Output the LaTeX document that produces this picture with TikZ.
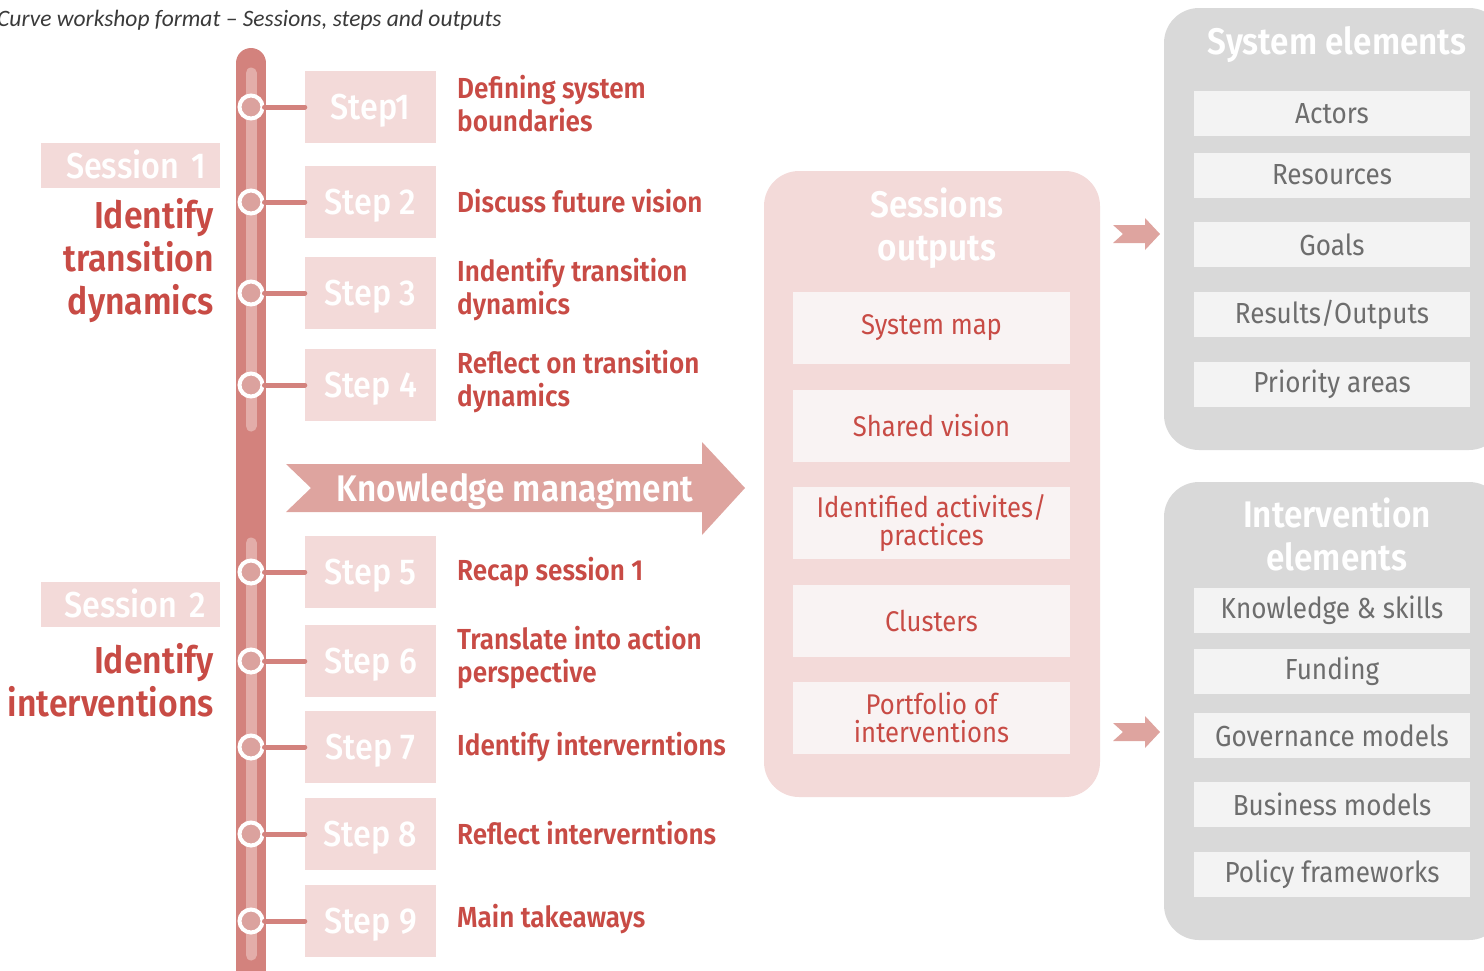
\documentclass[tikz,border=0pt]{standalone}
\usepackage{fontspec}
\setmainfont{Fira Sans}[FakeStretch=0.9, BoldFont={Fira Sans SemiBold}]
\newfontfamily\medfont{Fira Sans Medium}[FakeStretch=0.9]
\newfontfamily\titlefont{Carlito}
\definecolor{redc}{HTML}{C84B45}
\definecolor{bardark}{HTML}{D3827D}
\definecolor{stripec}{HTML}{E3ADA9}
\definecolor{circc}{HTML}{DBA29E}
\definecolor{pinkc}{HTML}{F3DAD9}
\definecolor{arrowc}{HTML}{DEA49F}
\definecolor{greyc}{HTML}{D9D9D9}
\definecolor{greyitem}{HTML}{F3F3F3}
\definecolor{greytext}{HTML}{6D6D6D}
\definecolor{outitem}{HTML}{F9F3F3}
\definecolor{titlec}{HTML}{3A3A3A}
\begin{document}
\begin{tikzpicture}[x=1pt,y=-1pt,
  stepbox/.style={fill=pinkc, minimum width=131, minimum height=72, inner sep=0, text=white, text height=25, text depth=0, font=\medfont\fontsize{36}{40}\selectfont},
  desc/.style={anchor=west, text=redc, font=\bfseries\fontsize{29}{33}\selectfont, align=left, inner sep=0},
  dot/.style={circle, fill=circc, draw=white, line width=4, minimum size=23, inner sep=0},
  conn/.style={line width=5, draw=bardark, line cap=round},
  sessbox/.style={fill=pinkc, minimum width=179, minimum height=45, text width=151, inner xsep=14, inner ysep=0, align=right, text=white, text height=25, text depth=0, font=\medfont\fontsize{36}{40}\selectfont},
  sessdesc/.style={anchor=east, align=right, text=redc, font=\bfseries\fontsize{37.5}{43}\selectfont, inner sep=0},
  outitembox/.style={fill=outitem, minimum width=277, minimum height=72, inner sep=0, align=center, text=redc, font=\fontsize{28.5}{28}\selectfont},
  greyitembox/.style={fill=greyitem, minimum width=276, minimum height=45, inner sep=0, text=greytext, font=\fontsize{29}{30}\selectfont},
  bigtitle/.style={text=white, align=center, inner sep=0, font=\bfseries\fontsize{37}{43}\selectfont},
  smallarrow/.style={fill=arrowc}
]
\useasboundingbox (0,0) rectangle (1484,970);
\clip (0,0) rectangle (1484,970);

% title
\node[anchor=base west, inner sep=0, text=titlec, font=\titlefont\itshape\fontsize{23.5}{24}\selectfont] (title) at (-3,26) {Curve workshop format – Sessions, steps and outputs};

% timeline
\draw[line width=30, draw=bardark, line cap=round] (251,63) -- (251,1000);
\draw[line width=11, draw=stripec, line cap=round] (251,73) -- (251,426);
\draw[line width=11, draw=stripec, line cap=round] (251,543) -- (251,955);

% steps
\foreach \i/\y/\lab in {1/107/Step1, 2/202/Step 2, 3/293/Step 3, 4/385/Step 4, 5/572/Step 5, 6/661/Step 6, 7/747/Step 7, 8/834/Step 8, 9/921/Step 9}{
  \node[stepbox] (s\i) at (370.5,\y) {\lab};
  \node[dot] (c\i) at (251,\y) {};
  \draw[conn] (c\i) -- (s\i);
}

\node[desc] (d1) at (457,104) {Defining system\\boundaries};
\node[desc] (d2) at (457,201) {Discuss future vision};
\node[desc] (d3) at (457,290) {Indentify transition\\dynamics};
\node[desc] (d4) at (457,382) {Reflect on transition\\dynamics};
\node[desc] (d5) at (457,572) {Recap session 1};
\node[desc] (d6) at (457,658) {Translate into action\\perspective};
\node[desc] (d7) at (457,747) {Identify interverntions};
\node[desc] (d8) at (457,833) {Reflect interverntions};
\node[desc] (d9) at (457,919) {Main takeaways};

% sessions
\node[sessbox] (ses1) at (130.5,165.5) {Session 1};
\node[sessdesc] (sd1) at (214,261) {Identify\\transition\\dynamics};
\node[sessbox] (ses2) at (130.5,604.5) {Session 2};
\node[sessdesc] (sd2) at (214,680) {Identify\\interventions};

% knowledge arrow
\fill[arrowc] (286,464) -- (702,464) -- (702,442) -- (745,488) -- (702,535) -- (702,512) -- (286,512) -- (311,488) -- cycle;
\node[text=white, inner sep=0, text height=26, text depth=0, font=\bfseries\fontsize{37}{40}\selectfont] (km) at (515,488) {Knowledge managment};

% outputs box
\node[fill=pinkc, rounded corners=35, minimum width=336, minimum height=626, inner sep=0] (out) at (932,484) {};
\node[bigtitle] (outt) at (937,228) {Sessions\\outputs};
\node[outitembox] (o1) at (931.5,328) {System map};
\node[outitembox] (o2) at (931.5,426) {Shared vision};
\node[outitembox] (o3) at (931.5,523) {Identified activites/\\practices};
\node[outitembox] (o4) at (931.5,621) {Clusters};
\node[outitembox] (o5) at (931.5,718) {Portfolio of\\interventions};

% small arrows
\fill[smallarrow] (1113,225) -- (1145,225) -- (1145,218) -- (1160,234) -- (1145,250) -- (1145,243) -- (1113,243) -- (1123,234) -- cycle;
\fill[smallarrow] (1113,723) -- (1145,723) -- (1145,716) -- (1160,732) -- (1145,748) -- (1145,741) -- (1113,741) -- (1123,732) -- cycle;

% system elements
\node[fill=greyc, rounded corners=35, minimum width=340, minimum height=442, inner sep=0] (sys) at (1334,229) {};
\node[bigtitle] (syst) at (1337,45) {System elements};
\node[greyitembox] (g1) at (1332,113.5) {Actors};
\node[greyitembox] (g2) at (1332,175) {Resources};
\node[greyitembox] (g3) at (1332,244.5) {Goals};
\node[greyitembox] (g4) at (1332,314.5) {Results/Outputs};
\node[greyitembox] (g5) at (1332,384.5) {Priority areas};

% intervention elements
\node[fill=greyc, rounded corners=35, minimum width=340, minimum height=458, inner sep=0] (int) at (1334,711) {};
\node[bigtitle] (intt) at (1337,534) {Intervention\\elements};
\node[greyitembox] (h1) at (1332,610.5) {Knowledge \& skills};
\node[greyitembox] (h2) at (1332,671.5) {Funding};
\node[greyitembox] (h3) at (1332,735.5) {Governance models};
\node[greyitembox] (h4) at (1332,804.5) {Business models};
\node[greyitembox] (h5) at (1332,874.5) {Policy frameworks};
\end{tikzpicture}
\end{document}
